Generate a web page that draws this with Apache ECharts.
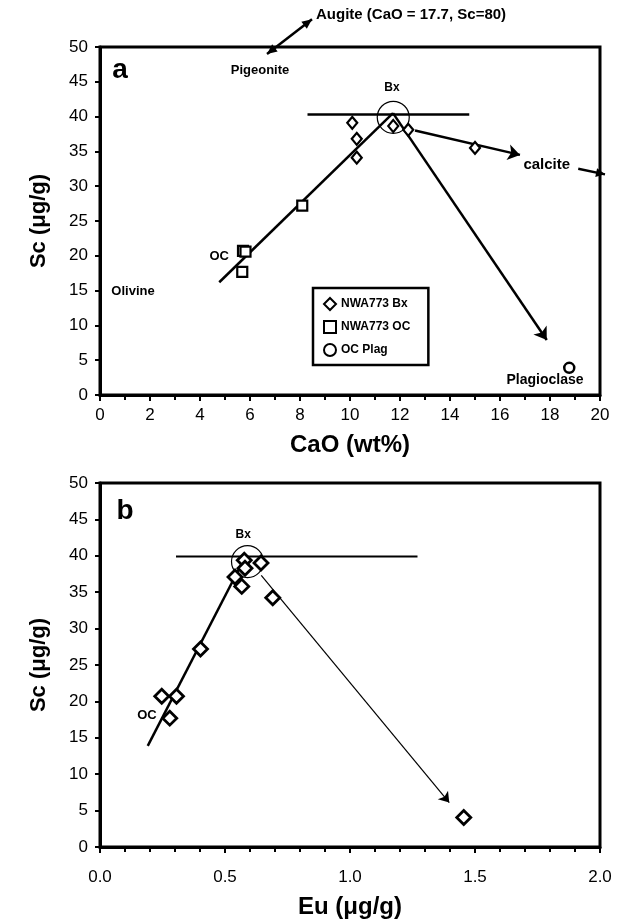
<!DOCTYPE html>
<html><head><meta charset="utf-8">
<script src="https://cdn.jsdelivr.net/npm/echarts@6/dist/echarts.min.js"></script>
<style>html,body{margin:0;padding:0;background:#fff}#c{width:625px;height:923px}</style>
</head><body><div id="c"></div>
<script>
// ---------- data (panel a: CaO vs Sc) ----------
const caoBx = [10.09, 10.27, 10.27, 11.73, 12.33, 15.0];
const scBxA = [39.1, 36.8, 34.1, 38.65, 38.1, 35.5];
const caoOC = [5.72, 5.82, 5.69, 8.09];
const scOC  = [20.7, 20.6, 17.7, 27.2];
const caoPlag = [18.77];
const scPlag  = [3.9];
// trend lines panel a
const trendA_cao = [4.77, 11.72];
const trendA_sc  = [16.2, 40.5];
const plagArrowA_cao = [11.72, 17.87];
const plagArrowA_sc  = [40.5, 7.9];
const calcArrowA_cao = [12.6, 16.8];
const calcArrowA_sc  = [38.0, 34.5];
const horizA_cao = [8.3, 14.77];
const horizA_sc  = [40.3, 40.3];
const bxCircleA = [11.73, 39.9];
// outside arrows (panel a)
const augiteArrow_cao = [6.68, 8.48];
const augiteArrow_sc  = [49.0, 54.0];
const calcOut_cao = [19.13, 20.2];
const calcOut_sc  = [32.5, 31.7];

// ---------- data (panel b: Eu vs Sc) ----------
const euBx  = [0.247, 0.306, 0.279, 0.402, 0.54, 0.567, 0.577, 0.58, 0.644, 0.691, 1.455];
const scBxB = [20.7, 20.7, 17.7, 27.2, 37.1, 35.8, 39.4, 38.3, 39.0, 34.25, 4.04];
const trendB_eu = [0.191, 0.577];
const trendB_sc = [13.9, 39.6];
const arrowB_eu = [0.645, 1.397];
const arrowB_sc = [37.3, 6.1];
const horizB_eu = [0.304, 1.27];
const horizB_sc = [39.9, 39.9];
const bxCircleB = [0.59, 39.2];

// tick settings
const xTicksA = {min: 0, max: 20, interval: 2};
const yTicks  = {min: 0, max: 50, interval: 5};
const xTicksB = {min: 0, max: 2, interval: 0.5};

const zip = (a, b) => a.map((v, i) => [v, b[i]]);
const FONT = '"Liberation Sans", Arial, sans-serif';

const chart = echarts.init(document.getElementById('c'));

function xAx(gi, t, minorSplit, name, nameGap, margin, fmt) {
  return {
    type: 'value', gridIndex: gi, min: t.min, max: t.max, interval: t.interval,
    name: name, nameLocation: 'middle', nameGap: nameGap,
    nameTextStyle: {fontFamily: FONT, fontSize: 24, fontWeight: 'bold', color: '#000'},
    axisLine: {show: true, onZero: false, lineStyle: {color: '#000', width: 3}},
    axisTick: {show: true, length: 6, lineStyle: {color: '#000', width: 2}},
    minorTick: {show: true, splitNumber: minorSplit, length: 5, lineStyle: {color: '#000', width: 2}},
    splitLine: {show: false}, minorSplitLine: {show: false},
    axisLabel: {fontFamily: FONT, fontSize: 17, color: '#000', margin: margin, formatter: fmt}
  };
}
function yAx(gi, t, name) {
  return {
    type: 'value', gridIndex: gi, min: t.min, max: t.max, interval: t.interval,
    name: name, nameLocation: 'middle', nameGap: 50,
    nameTextStyle: {fontFamily: FONT, fontSize: 22, fontWeight: 'bold', color: '#000'},
    axisLine: {show: true, onZero: false, lineStyle: {color: '#000', width: 3}},
    axisTick: {show: true, length: 5, lineStyle: {color: '#000', width: 2}},
    splitLine: {show: false},
    axisLabel: {fontFamily: FONT, fontSize: 17, color: '#000', margin: 12}
  };
}

const emptySym = (bw) => ({color: '#fff', borderColor: '#000', borderWidth: bw, opacity: 1});
const blackLine = (w) => ({color: '#000', width: w, type: 'solid'});

function arrowMark(xs, ys, w, size) {
  return {
    silent: true, symbol: ['none', 'arrow'], symbolSize: size,
    lineStyle: {color: '#000', width: w, type: 'solid'}, label: {show: false},
    emphasis: {disabled: true},
    data: [[{coord: [xs[0], ys[0]]}, {coord: [xs[1], ys[1]]}]]
  };
}

chart.setOption({
  animation: false,
  backgroundColor: '#fff',
  grid: [
    {left: 100, top: 47, width: 500, height: 348, show: true, borderColor: '#000', borderWidth: 3, containLabel: false},
    {left: 100, top: 483, width: 500, height: 364, show: true, borderColor: '#000', borderWidth: 3, containLabel: false}
  ],
  xAxis: [
    xAx(0, xTicksA, 2, 'CaO (wt%)', 38, 12),
    xAx(1, xTicksB, 5, 'Eu (\u03bcg/g)', 48, 22, v => v.toFixed(1))
  ],
  yAxis: [yAx(0, yTicks, 'Sc (\u03bcg/g)'), yAx(1, yTicks, 'Sc (\u03bcg/g)')],
  legend: {
    show: true, orient: 'vertical', left: 313, top: 288,
    data: ['NWA773 Bx', 'NWA773 OC', 'OC Plag'],
    itemWidth: 12, itemHeight: 12, itemGap: 9,
    padding: [9, 18, 8, 10],
    borderColor: '#000', borderWidth: 2.5, backgroundColor: '#fff',
    textStyle: {fontFamily: FONT, fontSize: 12, fontWeight: 'bold', color: '#000'},
    selectedMode: false
  },
  series: [
    {name: 'trendA', type: 'line', xAxisIndex: 0, yAxisIndex: 0, data: zip(trendA_cao, trendA_sc),
     symbol: 'none', lineStyle: blackLine(2.5), z: 2, silent: true,
     markLine: arrowMark(plagArrowA_cao, plagArrowA_sc, 2.5, 12)},
    {name: 'calcA', type: 'line', xAxisIndex: 0, yAxisIndex: 0, data: [],
     symbol: 'none', z: 2, silent: true, markLine: arrowMark(calcArrowA_cao, calcArrowA_sc, 2.5, 12)},
    {name: 'horizA', type: 'line', xAxisIndex: 0, yAxisIndex: 0, data: zip(horizA_cao, horizA_sc),
     symbol: 'none', lineStyle: blackLine(2.5), z: 2, silent: true},
    {name: 'circA', type: 'scatter', xAxisIndex: 0, yAxisIndex: 0, data: [bxCircleA],
     symbol: 'circle', symbolSize: 32, itemStyle: {color: 'rgba(0,0,0,0)', borderColor: '#000', borderWidth: 1.2, opacity: 1}, z: 3, silent: true},
    {name: 'NWA773 Bx', type: 'scatter', xAxisIndex: 0, yAxisIndex: 0, data: zip(caoBx, scBxA),
     symbol: 'diamond', symbolSize: [10, 12], itemStyle: emptySym(2.2), z: 5},
    {name: 'NWA773 OC', type: 'scatter', xAxisIndex: 0, yAxisIndex: 0, data: zip(caoOC, scOC),
     symbol: 'rect', symbolSize: 10, itemStyle: emptySym(2.2), z: 5},
    {name: 'OC Plag', type: 'scatter', xAxisIndex: 0, yAxisIndex: 0, data: zip(caoPlag, scPlag),
     symbol: 'circle', symbolSize: 10, itemStyle: emptySym(2.5), z: 5},

    {name: 'trendB', type: 'line', xAxisIndex: 1, yAxisIndex: 1, data: zip(trendB_eu, trendB_sc),
     symbol: 'none', lineStyle: blackLine(2.5), z: 2, silent: true,
     markLine: arrowMark(arrowB_eu, arrowB_sc, 1.2, 10)},
    {name: 'horizB', type: 'line', xAxisIndex: 1, yAxisIndex: 1, data: zip(horizB_eu, horizB_sc),
     symbol: 'none', lineStyle: blackLine(2), z: 2, silent: true},
    {name: 'circB', type: 'scatter', xAxisIndex: 1, yAxisIndex: 1, data: [bxCircleB],
     symbol: 'circle', symbolSize: 32, itemStyle: {color: 'rgba(0,0,0,0)', borderColor: '#000', borderWidth: 1.2, opacity: 1}, z: 3, silent: true},
    {name: 'Bx b', type: 'scatter', xAxisIndex: 1, yAxisIndex: 1, data: zip(euBx, scBxB),
     symbol: 'diamond', symbolSize: 14, itemStyle: emptySym(2.8), z: 5}
  ]
});

// ---------- annotations (placed through the axes) ----------
const notesA = [
  {t: 'Augite (CaO = 17.7, Sc=80)', p: [8.64, 54.6], align: 'left', size: 15},
  {t: 'Pigeonite', p: [6.4, 46.7], align: 'center', size: 13},
  {t: 'a', p: [0.8, 46.7], align: 'center', size: 28},
  {t: 'Bx', p: [11.68, 44.1], align: 'center', size: 12},
  {t: 'OC', p: [4.77, 19.9], align: 'center', size: 13},
  {t: 'Olivine', p: [1.32, 14.9], align: 'center', size: 13},
  {t: 'calcite', p: [17.87, 33.0], align: 'center', size: 15},
  {t: 'Plagioclase', p: [17.8, 2.15], align: 'center', size: 14}
];
const notesB = [
  {t: 'b', p: [0.1, 46.1], align: 'center', size: 28},
  {t: 'Bx', p: [0.573, 42.9], align: 'center', size: 12},
  {t: 'OC', p: [0.188, 18.1], align: 'center', size: 13}
];

function px(gi, p) { return chart.convertToPixel({gridIndex: gi}, p); }
function head(p, q, len, wid) {
  const dx = q[0] - p[0], dy = q[1] - p[1], L = Math.hypot(dx, dy);
  const ux = dx / L, uy = dy / L;
  const b = [q[0] - ux * len, q[1] - uy * len];
  return {type: 'polygon', shape: {points: [q, [b[0] - uy * wid, b[1] + ux * wid], [b[0] + uy * wid, b[1] - ux * wid]]},
          style: {fill: '#000'}, z: 10};
}
const g = [];
[[0, notesA], [1, notesB]].forEach(([gi, list]) => {
  list.forEach(n => {
    const q = px(gi, n.p);
    g.push({type: 'text', x: q[0], y: q[1], z: 10,
      style: {text: n.t, fontFamily: FONT, fontSize: n.size, fontWeight: 'bold', fill: '#000',
              align: n.align, verticalAlign: 'middle'}});
  });
});
// augite double arrow
const a1 = px(0, [augiteArrow_cao[0], augiteArrow_sc[0]]);
const a2 = px(0, [augiteArrow_cao[1], augiteArrow_sc[1]]);
g.push({type: 'line', shape: {x1: a1[0], y1: a1[1], x2: a2[0], y2: a2[1]}, style: {stroke: '#000', lineWidth: 2.5}, z: 10});
g.push(head(a2, a1, 10, 4.5));
g.push(head(a1, a2, 10, 4.5));
// calcite outer arrow
const c1 = px(0, [calcOut_cao[0], calcOut_sc[0]]);
const c2 = px(0, [calcOut_cao[1], calcOut_sc[1]]);
g.push({type: 'line', shape: {x1: c1[0], y1: c1[1], x2: c2[0], y2: c2[1]}, style: {stroke: '#000', lineWidth: 2.5}, z: 10});
g.push(head(c1, c2, 9, 4.5));
chart.setOption({graphic: g});
</script></body></html>
